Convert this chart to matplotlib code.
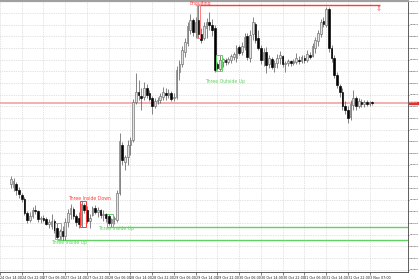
import numpy as np
import matplotlib
matplotlib.use("Agg")
import matplotlib.pyplot as plt
from matplotlib.patches import Rectangle

# H1 candles, 24 Oct 18:00 .. 3 Nov 09:00
opens = [0.87917, 0.87905, 0.87917, 0.87892, 0.87870, 0.87853, 0.87793, 0.87763, 0.87780, 0.87806,
         0.87802, 0.87767, 0.87772, 0.87767, 0.87746, 0.87737, 0.87759, 0.87729, 0.87695, 0.87716,
         0.87695, 0.87755, 0.87789, 0.87810, 0.87780, 0.87772, 0.87742, 0.87827, 0.87806, 0.87759,
         0.87785, 0.87815, 0.87797, 0.87806, 0.87785, 0.87789, 0.87780, 0.87750, 0.87767, 0.87763,
         0.87879, 0.88085, 0.88012, 0.88033, 0.88085, 0.88106, 0.88269, 0.88312, 0.88295, 0.88290,
         0.88329, 0.88307, 0.88286, 0.88252, 0.88273, 0.88277, 0.88290, 0.88307, 0.88299, 0.88307,
         0.88286, 0.88290, 0.88397, 0.88432, 0.88483, 0.88522, 0.88577, 0.88620, 0.88569, 0.88620,
         0.88560, 0.88543, 0.88586, 0.88612, 0.88599, 0.88586, 0.88432, 0.88410, 0.88440, 0.88449,
         0.88440, 0.88449, 0.88462, 0.88457, 0.88505, 0.88483, 0.88505, 0.88552, 0.88457, 0.88560,
         0.88603, 0.88543, 0.88500, 0.88449, 0.88483, 0.88432, 0.88453, 0.88419, 0.88436, 0.88457,
         0.88466, 0.88432, 0.88436, 0.88445, 0.88436, 0.88440, 0.88449, 0.88445, 0.88457, 0.88449,
         0.88470, 0.88466, 0.88500, 0.88530, 0.88560, 0.88616, 0.88599, 0.88667, 0.88500, 0.88457,
         0.88385, 0.88337, 0.88312, 0.88252, 0.88235, 0.88205, 0.88256, 0.88286, 0.88252, 0.88269,
         0.88260, 0.88269, 0.88260, 0.88269]
highs = [0.87952, 0.87943, 0.87926, 0.87905, 0.87879, 0.87862, 0.87802, 0.87797, 0.87819, 0.87827,
         0.87806, 0.87780, 0.87785, 0.87776, 0.87767, 0.87789, 0.87767, 0.87750, 0.87725, 0.87737,
         0.87772, 0.87810, 0.87832, 0.87819, 0.87789, 0.87797, 0.87845, 0.87836, 0.87823, 0.87789,
         0.87823, 0.87827, 0.87819, 0.87810, 0.87806, 0.87793, 0.87789, 0.87772, 0.87780, 0.87892,
         0.88136, 0.88097, 0.88042, 0.88106, 0.88119, 0.88282, 0.88393, 0.88363, 0.88329, 0.88355,
         0.88346, 0.88320, 0.88295, 0.88286, 0.88290, 0.88307, 0.88333, 0.88329, 0.88325, 0.88316,
         0.88307, 0.88423, 0.88449, 0.88509, 0.88543, 0.88612, 0.88646, 0.88629, 0.88633, 0.88685,
         0.88586, 0.88612, 0.88629, 0.88655, 0.88625, 0.88599, 0.88440, 0.88470, 0.88457, 0.88457,
         0.88462, 0.88475, 0.88483, 0.88513, 0.88513, 0.88526, 0.88565, 0.88565, 0.88577, 0.88633,
         0.88612, 0.88577, 0.88513, 0.88500, 0.88505, 0.88470, 0.88462, 0.88449, 0.88475, 0.88487,
         0.88470, 0.88445, 0.88453, 0.88449, 0.88453, 0.88479, 0.88466, 0.88470, 0.88470, 0.88492,
         0.88483, 0.88522, 0.88547, 0.88577, 0.88625, 0.88633, 0.88676, 0.88676, 0.88513, 0.88470,
         0.88397, 0.88346, 0.88329, 0.88273, 0.88252, 0.88277, 0.88320, 0.88295, 0.88286, 0.88282,
         0.88277, 0.88277, 0.88273, 0.88273]
lows = [0.87900, 0.87887, 0.87870, 0.87857, 0.87840, 0.87785, 0.87750, 0.87755, 0.87772, 0.87789,
        0.87755, 0.87750, 0.87755, 0.87742, 0.87729, 0.87725, 0.87707, 0.87682, 0.87682, 0.87677,
        0.87677, 0.87733, 0.87767, 0.87767, 0.87737, 0.87729, 0.87733, 0.87793, 0.87750, 0.87729,
        0.87780, 0.87789, 0.87776, 0.87772, 0.87759, 0.87755, 0.87742, 0.87733, 0.87746, 0.87755,
        0.87870, 0.87999, 0.87977, 0.87999, 0.88042, 0.88097, 0.88260, 0.88277, 0.88235, 0.88277,
        0.88286, 0.88273, 0.88217, 0.88243, 0.88260, 0.88265, 0.88277, 0.88277, 0.88286, 0.88273,
        0.88273, 0.88282, 0.88363, 0.88419, 0.88462, 0.88509, 0.88560, 0.88552, 0.88543, 0.88543,
        0.88522, 0.88535, 0.88543, 0.88577, 0.88552, 0.88397, 0.88406, 0.88402, 0.88419, 0.88427,
        0.88432, 0.88436, 0.88449, 0.88440, 0.88470, 0.88470, 0.88492, 0.88449, 0.88440, 0.88535,
        0.88522, 0.88492, 0.88432, 0.88423, 0.88393, 0.88415, 0.88410, 0.88397, 0.88415, 0.88432,
        0.88419, 0.88397, 0.88423, 0.88423, 0.88427, 0.88432, 0.88432, 0.88436, 0.88436, 0.88440,
        0.88453, 0.88462, 0.88479, 0.88509, 0.88547, 0.88590, 0.88590, 0.88483, 0.88440, 0.88372,
        0.88329, 0.88290, 0.88235, 0.88217, 0.88179, 0.88192, 0.88235, 0.88235, 0.88243, 0.88247,
        0.88247, 0.88252, 0.88252, 0.88256]
closes = [0.87939, 0.87930, 0.87892, 0.87875, 0.87853, 0.87793, 0.87763, 0.87780, 0.87806, 0.87802,
          0.87767, 0.87772, 0.87763, 0.87746, 0.87755, 0.87759, 0.87720, 0.87690, 0.87716, 0.87695,
          0.87755, 0.87793, 0.87815, 0.87780, 0.87755, 0.87746, 0.87832, 0.87806, 0.87759, 0.87772,
          0.87815, 0.87797, 0.87806, 0.87785, 0.87789, 0.87772, 0.87750, 0.87767, 0.87772, 0.87879,
          0.88102, 0.88020, 0.88033, 0.88085, 0.88106, 0.88269, 0.88312, 0.88299, 0.88286, 0.88329,
          0.88299, 0.88282, 0.88252, 0.88273, 0.88277, 0.88295, 0.88312, 0.88299, 0.88307, 0.88282,
          0.88290, 0.88406, 0.88432, 0.88492, 0.88526, 0.88595, 0.88620, 0.88569, 0.88612, 0.88560,
          0.88535, 0.88595, 0.88612, 0.88599, 0.88577, 0.88406, 0.88415, 0.88449, 0.88453, 0.88440,
          0.88453, 0.88466, 0.88475, 0.88500, 0.88479, 0.88509, 0.88547, 0.88462, 0.88556, 0.88612,
          0.88535, 0.88500, 0.88449, 0.88483, 0.88427, 0.88457, 0.88419, 0.88436, 0.88457, 0.88470,
          0.88432, 0.88436, 0.88445, 0.88436, 0.88445, 0.88457, 0.88445, 0.88462, 0.88449, 0.88475,
          0.88462, 0.88509, 0.88535, 0.88565, 0.88612, 0.88603, 0.88667, 0.88500, 0.88457, 0.88385,
          0.88342, 0.88312, 0.88252, 0.88235, 0.88200, 0.88260, 0.88286, 0.88252, 0.88273, 0.88260,
          0.88269, 0.88260, 0.88269, 0.88265]

time_labels = ["24 Oct 14:00", "24 Oct 22:00", "27 Oct 06:00", "27 Oct 14:00", "27 Oct 22:00",
               "28 Oct 06:00", "28 Oct 14:00", "28 Oct 22:00", "29 Oct 06:00", "29 Oct 14:00",
               "29 Oct 22:00", "30 Oct 06:00", "30 Oct 14:00", "30 Oct 22:00", "31 Oct 06:00",
               "31 Oct 14:00", "31 Oct 22:00", "3 Nov 07:00"]
time_label_bars = [-4, 4, 12, 20, 28, 36, 44, 52, 60, 68, 76, 84, 92, 100, 108, 116, 124, 132]

# candlestick patterns found by the indicator
pattern_names = ["Three Inside Up", "Three Inside Down", "Three Inside Up", "Engulfing", "Three Outside Up"]
pattern_first = [17, 26, 36, 69, 76]
pattern_last = [18, 27, 37, 69, 77]
pattern_bull = [True, False, True, False, True]
pattern_text_bar = [21.5, 29.0, 38.8, 69.7, 79.0]
pattern_text_price = [0.87665, 0.87857, 0.87725, 0.88691, 0.88355]

# levels drawn from the patterns
level_price = [0.87677, 0.87733, 0.88685]
level_start = [17, 36, 69]
level_end = [None, None, 136]
level_bull = [True, True, False]

price_step = 0.0005

opens, highs, lows, closes = map(np.array, (opens, highs, lows, closes))
bars = np.arange(len(closes))
up = closes >= opens

fig = plt.figure(figsize=(4.2, 2.8), dpi=100)
fig.patch.set_facecolor("white")
ax = fig.add_axes([0, 8 / 280, 408 / 420, 271 / 280])
ax.set_facecolor("white")

x_lo, x_hi = 0.43, 146.14
y_lo, y_hi = 0.87540, 0.88702
ax.set_xlim(x_lo, x_hi)
ax.set_ylim(y_lo, y_hi)

# grid
yticks = np.arange(0.87550, 0.88701, price_step)
ax.set_yticks(yticks)
ax.set_yticklabels([f"{p:.5f}" for p in yticks])
ax.set_xticks(time_label_bars)
ax.set_xticklabels(time_labels, ha="left")
ax.grid(True, color="#c8c8c8", linestyle=(0, (1, 1.5)), linewidth=0.5)
ax.set_axisbelow(True)

ax.yaxis.tick_right()
ax.tick_params(axis="y", labelsize=1.65, length=1.0, width=0.4, pad=0.2, colors="#222222")
ax.tick_params(axis="x", labelsize=2.4, length=2, width=0.4, pad=1, colors="#222222")

ax.spines["left"].set_visible(False)
ax.spines["top"].set_color("#a0a0a0")
ax.spines["top"].set_linewidth(1.6)
ax.spines["right"].set_color("#444444")
ax.spines["right"].set_linewidth(0.6)
ax.spines["bottom"].set_color("#444444")
ax.spines["bottom"].set_linewidth(0.6)

# current price line
last = closes[-1]
ax.axhline(last, color="#f29a9a", lw=1.1, zorder=1)

# candles
ax.vlines(bars, lows, highs, color="#555555", lw=0.5, zorder=3)
body_lo = np.minimum(opens, closes)
body_h = np.maximum(np.abs(closes - opens), 0.000015)
ax.bar(bars[up], body_h[up], bottom=body_lo[up], width=0.62, color="#e2e2e2",
       edgecolor="#6a6a6a", linewidth=0.45, zorder=4)
ax.bar(bars[~up], body_h[~up], bottom=body_lo[~up], width=0.62, color="black",
       edgecolor="black", linewidth=0.45, zorder=4)

green = "#5fd35f"
red = "#ff3b3b"

# levels
for p, s, e, b in zip(level_price, level_start, level_end, level_bull):
    end = x_hi if e is None else e
    ax.plot([s, end], [p, p], color=green if b else red, lw=1.0, zorder=2,
            solid_capstyle="butt")
    if e is not None:
        ax.text(e - 0.5, p - 0.00004, "\u21e9", color=red, fontsize=5,
                ha="center", va="top", zorder=5)

# pattern boxes and names
for name, f, l, b, tx, ty in zip(pattern_names, pattern_first, pattern_last, pattern_bull,
                                 pattern_text_bar, pattern_text_price):
    col = green if b else ("#ff8080" if f == l else red)
    lo = lows[f:l + 1].min()
    hi = highs[f:l + 1].max()
    pad = 0.5 if f == l else 0.6
    ax.add_patch(Rectangle((f - pad, lo), l - f + 2 * pad, hi - lo, fill=False,
                           edgecolor=col, lw=0.7, zorder=5))
    ax.text(tx, ty, name, color=green if b else red, fontsize=3.3, ha="center",
            va="center", zorder=6)

# current price tag on the price scale
ax.text(1.002, last, f"{last:.5f}", transform=ax.get_yaxis_transform(), fontsize=1.65,
        color="white", va="center", ha="left",
        bbox=dict(boxstyle="square,pad=0.1", fc="#e03030", ec="#e03030"))

fig.savefig("out.png", dpi=100, facecolor="white")
